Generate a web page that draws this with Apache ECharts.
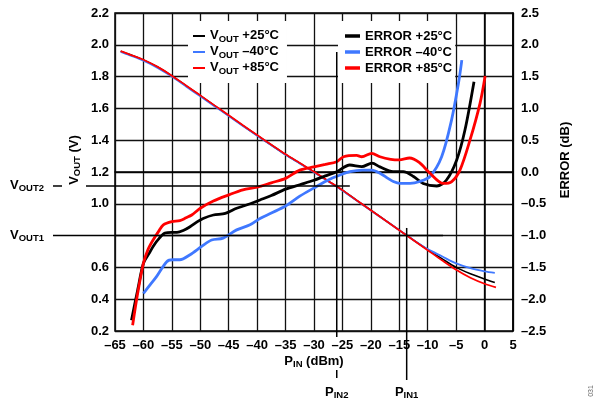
<!DOCTYPE html>
<html>
<head>
<meta charset="utf-8">
<script src="https://cdn.jsdelivr.net/npm/echarts@6/dist/echarts.min.js"></script>
<style>html,body{margin:0;padding:0;background:#fff}#c{width:599px;height:404px}</style>
</head>
<body>
<div id="c"></div>
<script>
// ---- data ----
const xRange = [-65, 5];
const voutRange = [0.2, 2.2];
const errRange = [-2.5, 2.5];
const vout25 = [[-64,1.96],[-62.5,1.94],[-60,1.905],[-57.5,1.86],[-55,1.805],[-52.5,1.742],[-50,1.68],[-47.5,1.617],[-45,1.555],[-42.5,1.492],[-40,1.43],[-37.5,1.37],[-35,1.31],[-32.5,1.255],[-30,1.2],[-27.5,1.143],[-25,1.085],[-22.5,1.022],[-20,0.96],[-17.5,0.897],[-15,0.835],[-12.5,0.772],[-10,0.712],[-7.5,0.655],[-5,0.6],[-2.5,0.56],[0,0.527],[1.8,0.505]];
const vout40 = [[-64,1.955],[-62.5,1.935],[-60,1.9],[-57.5,1.855],[-55,1.8],[-52.5,1.738],[-50,1.676],[-47.5,1.614],[-45,1.552],[-42.5,1.49],[-40,1.428],[-37.5,1.368],[-35,1.308],[-32.5,1.253],[-30,1.198],[-27.5,1.141],[-25,1.083],[-22.5,1.02],[-20,0.958],[-17.5,0.896],[-15,0.834],[-12.5,0.772],[-10,0.715],[-7.5,0.67],[-5,0.625],[-2.5,0.595],[0,0.575],[1.8,0.565]];
const vout85 = [[-64,1.96],[-62.5,1.94],[-60,1.906],[-57.5,1.861],[-55,1.806],[-52.5,1.744],[-50,1.682],[-47.5,1.619],[-45,1.557],[-42.5,1.494],[-40,1.432],[-37.5,1.372],[-35,1.312],[-32.5,1.257],[-30,1.202],[-27.5,1.144],[-25,1.086],[-22.5,1.022],[-20,0.96],[-17.5,0.897],[-15,0.834],[-12.5,0.771],[-10,0.708],[-7.5,0.645],[-5,0.585],[-2.5,0.535],[0,0.497],[2,0.475]];
const err25 = [[-62.1,-2.33],[-61,-1.85],[-60,-1.435],[-59,-1.28],[-58.3,-1.17],[-57.2,-1.04],[-56.2,-0.96],[-55,-0.95],[-54.1,-0.95],[-53,-0.92],[-51.8,-0.86],[-50.5,-0.78],[-49.5,-0.73],[-47.7,-0.676],[-45.6,-0.65],[-43.6,-0.57],[-41.2,-0.5],[-39.5,-0.44],[-37.5,-0.37],[-35,-0.27],[-32.5,-0.2],[-30,-0.13],[-28,-0.06],[-26,0.005],[-23.7,0.11],[-21.6,0.085],[-19.8,0.138],[-18.4,0.08],[-16.1,0.005],[-14.3,0.005],[-12.5,-0.07],[-10.8,-0.18],[-8.4,-0.22],[-6.7,-0.126],[-4.9,0.19],[-3.45,0.66],[-1.86,1.42]];
const err40 = [[-60,-1.91],[-58.8,-1.77],[-57.7,-1.646],[-55.9,-1.41],[-54.8,-1.38],[-53.6,-1.38],[-51.8,-1.3],[-49.75,-1.17],[-48,-1.07],[-46,-1.04],[-43.6,-0.91],[-41.25,-0.83],[-39.5,-0.73],[-37.5,-0.645],[-35,-0.535],[-32.5,-0.38],[-30,-0.25],[-27.5,-0.125],[-25.4,-0.047],[-23.7,0.005],[-21.5,0.03],[-19.85,0.03],[-18.4,-0.02],[-17,-0.1],[-16.05,-0.15],[-14.9,-0.18],[-13.1,-0.18],[-11.4,-0.15],[-9.6,-0.07],[-7.55,0.24],[-5.8,0.82],[-4.6,1.39],[-4,1.76]];
const err85 = [[-61.9,-2.41],[-61,-1.9],[-60,-1.435],[-59.2,-1.22],[-58.3,-1.07],[-57.3,-0.93],[-56.5,-0.83],[-55,-0.78],[-53.6,-0.765],[-52.5,-0.72],[-51.5,-0.676],[-50,-0.57],[-47.7,-0.456],[-45,-0.36],[-42.5,-0.28],[-40,-0.24],[-37.5,-0.17],[-35,-0.1],[-32.5,0.03],[-30,0.08],[-28,0.12],[-26,0.162],[-24.8,0.24],[-22.5,0.26],[-21.6,0.24],[-19.85,0.294],[-18.4,0.24],[-16.5,0.2],[-15,0.19],[-13.2,0.22],[-11.5,0.15],[-9.6,-0.02],[-7.26,-0.18],[-5.78,-0.15],[-4.33,0.03],[-2.57,0.5],[-0.8,1.08],[0.1,1.51]];
const vout2Level = 1.112, vout1Level = 0.8;
const pin2Level = -26, pin1Level = -13.7;

// ---- chart ----
const FONT = "'Liberation Sans', Arial, sans-serif";
const chart = echarts.init(document.getElementById('c'), null, {renderer: 'canvas'});
const dash = '\u2013';
const sub = {
  v: {fontSize: 13, fontWeight: 'bold', fontFamily: FONT, color: '#000', lineHeight: 15, padding: [0, 0, 1, 0], verticalAlign: 'middle'},
  s: {fontSize: 9.5, fontWeight: 'bold', fontFamily: FONT, color: '#000', verticalAlign: 'bottom'}
};
const voutNames = {'VOUT +25°C': '{v|V}{s|OUT}{v| +25°C}', 'VOUT -40°C': '{v|V}{s|OUT}{v| ' + dash + '40°C}', 'VOUT +85°C': '{v|V}{s|OUT}{v| +85°C}'};
const errNames = {'ERROR +25°C': 'ERROR +25°C', 'ERROR -40°C': 'ERROR ' + dash + '40°C', 'ERROR +85°C': 'ERROR +85°C'};
const BLUE = '#3f78ff', RED = '#ff0000', BLACK = '#000';
function line(name, data, color, w, yIdx) {
  return {name, type: 'line', data, yAxisIndex: yIdx, showSymbol: false, symbol: 'none', smooth: 0.3,
    lineStyle: {color, width: w}, itemStyle: {color}, z: yIdx ? 4 : 3, animation: false};
}
chart.setOption({
  animation: false,
  grid: {left: 115, right: 86, top: 13, bottom: 73, show: true, borderColor: '#000', borderWidth: 1.5, backgroundColor: 'transparent'},
  legend: [
    {data: Object.keys(voutNames), orient: 'vertical', left: 188, top: 21, padding: [7, 8, 7, 5], backgroundColor: '#fff',
     icon: 'rect', itemWidth: 12, itemHeight: 2, itemGap: 0, formatter: n => voutNames[n],
     textStyle: {rich: sub, fontSize: 13, fontWeight: 'bold', fontFamily: FONT, color: '#000', lineHeight: 16}},
    {data: Object.keys(errNames), orient: 'vertical', left: 338, top: 21, padding: [7, 3, 7, 7], backgroundColor: '#fff',
     icon: 'rect', itemWidth: 15, itemHeight: 3.5, itemGap: 0, formatter: n => errNames[n],
     textStyle: {fontSize: 13, fontWeight: 'bold', fontFamily: FONT, color: '#000', lineHeight: 16}}
  ],
  xAxis: {type: 'value', min: xRange[0], max: xRange[1], interval: 5,
    axisLine: {show: true, lineStyle: {color: '#000', width: 1.5}}, axisTick: {show: false},
    splitLine: {show: true, lineStyle: {color: '#111', width: 1.3}},
    axisLabel: {margin: 8, color: '#000', fontSize: 13, fontWeight: 'bold', fontFamily: FONT,
      formatter: v => (v < 0 ? dash : '') + Math.abs(Math.round(v))}},
  yAxis: [
    {type: 'value', min: voutRange[0], max: voutRange[1], interval: 0.2, position: 'left',
     axisLine: {show: true, lineStyle: {color: '#000', width: 1.5}}, axisTick: {show: false},
     splitLine: {show: true, lineStyle: {color: '#111', width: 1.3}},
     axisLabel: {margin: 6, color: '#000', fontSize: 13, fontWeight: 'bold', fontFamily: FONT,
       formatter: v => Math.abs(v - 0.8) < 1e-6 ? '' : v.toFixed(1)}},
    {type: 'value', min: errRange[0], max: errRange[1], interval: 0.5, position: 'right',
     axisLine: {show: true, lineStyle: {color: '#000', width: 1.5}}, axisTick: {show: false},
     splitLine: {show: false},
     axisLabel: {margin: 8, color: '#000', fontSize: 13, fontWeight: 'bold', fontFamily: FONT,
       formatter: v => (v < -1e-9 ? dash : '') + Math.abs(v).toFixed(1)}}
  ],
  series: [
    line('VOUT +25°C', vout25, BLACK, 1.6, 0),
    line('VOUT -40°C', vout40, BLUE, 1.8, 0),
    line('VOUT +85°C', vout85, RED, 1.8, 0),
    line('ERROR +25°C', err25, BLACK, 2.8, 1),
    line('ERROR -40°C', err40, BLUE, 2.8, 1),
    line('ERROR +85°C', err85, RED, 2.8, 1)
  ]
});

const px = x => chart.convertToPixel({xAxisIndex: 0}, x);
const py = v => chart.convertToPixel({yAxisIndex: 0}, v);
const ln = (x1, y1, x2, y2, w) => ({type: 'line', z: 10, shape: {x1, y1, x2, y2}, style: {stroke: '#000', lineWidth: w || 1.5}});
const txt = (x, y, text, rot, align) => ({type: 'text', z: 11, x, y, rotation: rot || 0,
  style: {text, rich: sub, align: align || 'center', verticalAlign: 'middle', textAlign: align || 'center', textVerticalAlign: 'middle',
    font: 'bold 13px ' + FONT, fill: '#000'}});
const yV2 = py(vout2Level), yV1 = py(vout1Level), xP2 = px(pin2Level), xP1 = px(pin1Level);
chart.setOption({graphic: [
  ln(53, yV2, 62, yV2), ln(86, yV2, px(-23.7), yV2),
  ln(53, yV1, px(-7.3), yV1),
  ln(xP2, py(1.955), xP2, 337), ln(xP2, 370, xP2, 378),
  ln(xP1, py(0.848), xP1, 380),
  txt(10, yV2, '{v|V}{s|OUT2}', 0, 'left'),
  txt(10, yV1, '{v|V}{s|OUT1}', 0, 'left'),
  txt(75, 160, '{v|V}{s|OUT}{v| (V)}', Math.PI / 2),
  txt(566, 160, '{v|ERROR (dB)}', Math.PI / 2),
  txt(314, 362, '{v|P}{s|IN}{v| (dBm)}'),
  txt(xP2, 393, '{v|P}{s|IN2}'),
  txt(xP1, 393, '{v|P}{s|IN1}'),
  {type: 'text', z: 11, x: 591, y: 391, rotation: Math.PI / 2,
   style: {text: '031', font: '7px ' + FONT, fill: '#666', align: 'center', verticalAlign: 'middle', textAlign: 'center', textVerticalAlign: 'middle'}}
]});
</script>
</body>
</html>
